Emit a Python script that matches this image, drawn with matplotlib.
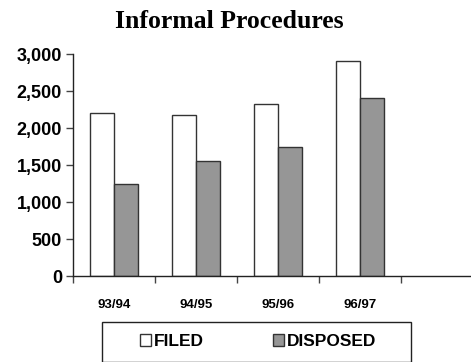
import matplotlib
matplotlib.use("Agg")
import matplotlib.pyplot as plt
from matplotlib.patches import Rectangle, Patch
from matplotlib.ticker import FuncFormatter
import numpy as np

# Case counts per fiscal year
years = ["93/94", "94/95", "95/96", "96/97"]
filed = [2210, 2180, 2325, 2910]
disposed = [1240, 1560, 1740, 2400]
n_slots = 5  # category axis keeps one empty trailing slot

W, H = 471, 362
fig = plt.figure(figsize=(W / 100, H / 100), dpi=100)
fig.patch.set_facecolor("white")

narrow = ["Liberation Sans Narrow", "Liberation Sans", "DejaVu Sans"]
sans = ["Liberation Sans", "DejaVu Sans"]

left, bottom, top = 73, 276.3, 54
ax = fig.add_axes([left / W, (H - bottom) / H, 82 * n_slots / W, (bottom - top) / H])
ax.set_facecolor("white")

x = np.arange(len(years)) + 0.5
bw = 0.29
edge = "#333333"
ax.bar(x - bw / 2, filed, bw, color="white", edgecolor=edge, linewidth=1.0, label="FILED")
ax.bar(x + bw / 2, disposed, bw, color="#969696", edgecolor=edge, linewidth=1.0, label="DISPOSED")

ax.set_xlim(0, n_slots)
ax.set_ylim(0, 3000)
for s in ("top", "right"):
    ax.spines[s].set_visible(False)
for s in ("left", "bottom"):
    ax.spines[s].set_color("#222222")
    ax.spines[s].set_linewidth(1.0)

ax.set_yticks(np.arange(0, 3001, 500))
ax.yaxis.set_major_formatter(FuncFormatter(lambda v, p: f"{int(v):,}"))
ax.tick_params(axis="y", length=5, width=1, color="#444444", pad=3)
for lbl in ax.get_yticklabels():
    lbl.set_fontfamily(sans)
    lbl.set_fontweight("bold")
    lbl.set_fontsize(13)

ax.set_xticks(np.arange(0, n_slots))
ax.set_xticklabels([])
ax.tick_params(axis="x", which="major", length=5, width=1, color="#444444")
ax.set_xticks(x, minor=True)
ax.set_xticklabels(years, minor=True)
ax.tick_params(axis="x", which="minor", length=0, pad=16)
for lbl in ax.get_xticklabels(minor=True):
    lbl.set_fontfamily(narrow)
    lbl.set_fontweight("bold")
    lbl.set_fontsize(9.5)

fig.text(229 / W, 1 - 21 / H, "Informal Procedures", ha="center", va="center",
         fontfamily=["Liberation Serif", "DejaVu Serif"], fontweight="bold", fontsize=18.5)

# Legend frame
fig.patches.append(Rectangle((101.7 / W, 0.0), 309 / W, (H - 322.3) / H + 0.002,
                             transform=fig.transFigure, facecolor="white",
                             edgecolor="#222222", linewidth=1.0, zorder=1))
handles = [Patch(facecolor="white", edgecolor=edge, linewidth=1.0),
           Patch(facecolor="#969696", edgecolor=edge, linewidth=1.0)]
fig.legend(handles, ["FILED", "DISPOSED"], loc="center",
           bbox_to_anchor=(258 / W, 1 - 341.7 / H), ncol=2, frameon=False,
           handlelength=0.65, handleheight=0.65, handletextpad=0.15,
           columnspacing=4.0, borderpad=0,
           prop={"family": sans, "weight": "bold", "size": 12.5})

fig.savefig("out.png", dpi=100, facecolor="white")
